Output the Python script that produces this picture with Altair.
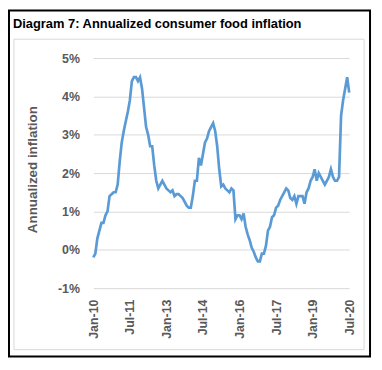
import altair as alt
import pandas as pd

TITLE = "Diagram 7: Annualized consumer food inflation"
Y_TITLE = "Annualized inflation"

# monthly index 0 = Jan-2010 ... 126 = Jul-2020
inflation = [
    -0.2, -0.1, 0.3, 0.5, 0.7, 0.7, 0.9, 1.0, 1.4, 1.45, 1.5, 1.5,
    1.7, 2.3, 2.8, 3.1, 3.35, 3.6, 3.9, 4.4, 4.5, 4.5, 4.4, 4.5,
    4.2, 3.7, 3.2, 3.0, 2.7, 2.7, 2.2, 1.8, 1.6, 1.7, 1.8, 1.7,
    1.6, 1.55, 1.5, 1.55, 1.4, 1.45, 1.45, 1.4, 1.35, 1.25, 1.15, 1.1,
    1.1, 1.4, 1.8, 1.8, 2.4, 2.2, 2.5, 2.8, 2.9, 3.1, 3.2, 3.3,
    3.1, 2.7, 2.1, 1.65, 1.7, 1.6, 1.55, 1.5, 1.6, 1.55, 0.8, 0.9,
    0.9, 0.8, 0.95, 0.6, 0.4, 0.25, 0.05, -0.05, -0.2, -0.3, -0.3, -0.1,
    -0.1, 0.1, 0.5, 0.6, 0.85, 0.9, 1.1, 1.15, 1.3, 1.4, 1.5, 1.6,
    1.55, 1.35, 1.3, 1.4, 1.2, 1.4, 1.4, 1.4, 1.2, 1.5, 1.6, 1.8,
    1.9, 2.1, 1.8, 2.0, 1.9, 1.8, 1.7, 1.8, 1.9, 2.1, 1.9, 1.8,
    1.8, 1.9, 3.5, 3.9, 4.2, 4.5, 4.1,
]
months = list(range(len(inflation)))

tick_positions = [0, 18, 36, 54, 72, 90, 108, 126]
tick_labels = ["Jan-10", "Jul-11", "Jan-13", "Jul-14", "Jan-16", "Jul-17", "Jan-19", "Jul-20"]
y_ticks = [-1, 0, 1, 2, 3, 4, 5]

df = pd.DataFrame({"m": months, "v": inflation})

label_expr = "[" + ",".join("'%s'" % s for s in tick_labels) + "][round(datum.value/18)]"

FONT = "Liberation Sans"
GRAY = "#595959"

line = alt.Chart(df).mark_line(color="#5B9BD5", strokeWidth=2.7).encode(
    x=alt.X(
        "m:Q",
        scale=alt.Scale(domain=[0, 126], nice=False, zero=False),
        axis=alt.Axis(
            values=tick_positions,
            labelExpr=label_expr,
            labelAngle=270,
            labelAlign="right",
            labelBaseline="middle",
            labelPadding=11,
            labelFont=FONT,
            labelFontSize=12.5,
            labelFontWeight="bold",
            labelColor=GRAY,
            grid=False,
            ticks=False,
            domain=False,
            title=None,
        ),
    ),
    y=alt.Y(
        "v:Q",
        scale=alt.Scale(domain=[-1, 5], nice=False, zero=False),
        axis=alt.Axis(
            values=y_ticks,
            labelExpr="datum.value + '%'",
            labelPadding=14,
            labelFont=FONT,
            labelFontSize=12.5,
            labelFontWeight="bold",
            labelColor=GRAY,
            grid=True,
            gridColor="#D9D9D9",
            gridWidth=1,
            ticks=False,
            domain=False,
            title=Y_TITLE,
            titleFont=FONT,
            titleFontSize=13.5,
            titleFontWeight="bold",
            titleColor=GRAY,
            titleX=-61,
            titleY=112,
            titleAngle=270,
            titleAlign="center",
            titleBaseline="middle",
        ),
    ),
)

deco = alt.Data(values=[{"t": TITLE}])

outer = alt.Chart(deco).mark_rect(fill=None, stroke="black", strokeWidth=2).encode(
    x=alt.value(-85), x2=alt.value(279), y=alt.value(-48), y2=alt.value(301)
)
inner = alt.Chart(deco).mark_rect(fill=None, stroke="#D9D9D9", strokeWidth=1).encode(
    x=alt.value(-80), x2=alt.value(273), y=alt.value(-19), y2=alt.value(294)
)
title = alt.Chart(deco).mark_text(
    align="left", baseline="alphabetic", font=FONT, fontSize=13, fontWeight="bold", color="black"
).encode(x=alt.value(-81), y=alt.value(-30.5), text="t:N")

chart = alt.layer(outer, inner, title, line).properties(
    width=258,
    height=232,
    autosize=alt.AutoSizeParams(type="none"),
    padding={"left": 86, "top": 49, "right": 25, "bottom": 72},
).configure_view(stroke=None)

chart.save("out.html", embed_options={"renderer": "svg", "actions": False})
